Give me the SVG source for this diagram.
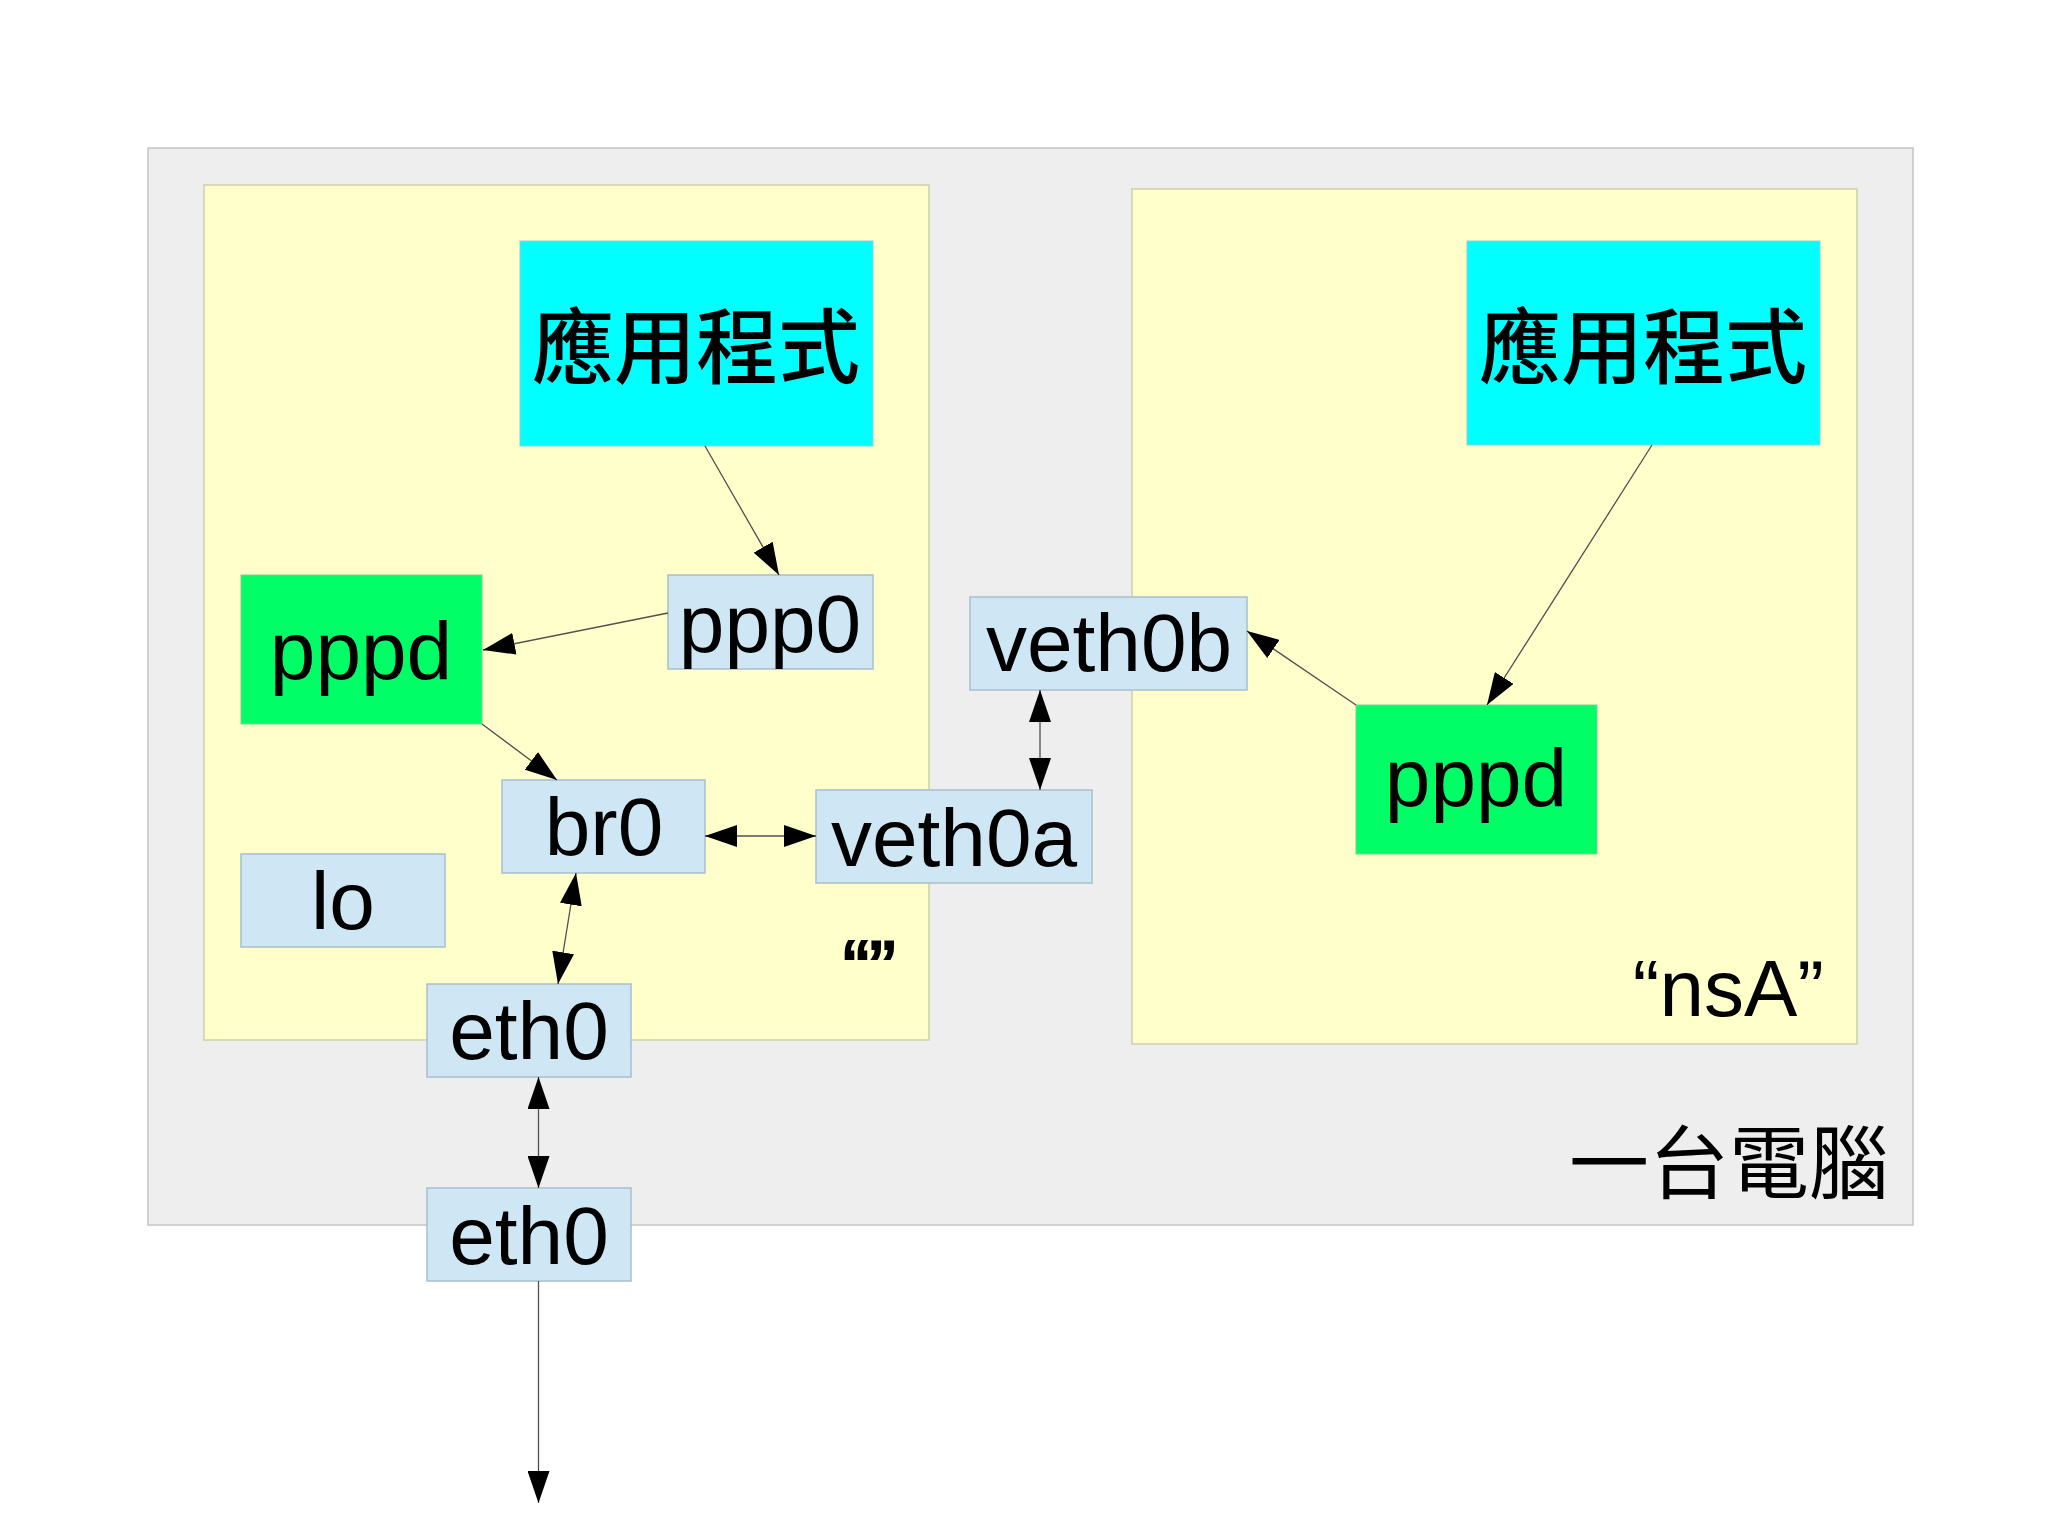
<svg xmlns="http://www.w3.org/2000/svg" width="2048" height="1535" viewBox="0 0 2048 1535">
<style>
.bg{fill:#ffffff}
.host{fill:#eeeeef;stroke:#c4c4c4;stroke-width:1.5}
.ns{fill:#ffffcc;stroke:#cfcfa8;stroke-width:1.5}
.app{fill:#00ffff;stroke:#8fd0d0;stroke-width:1}
.proc{fill:#00ff66;stroke:#7fcf90;stroke-width:1}
.dev{fill:#cfe7f5;stroke:#a9bfcc;stroke-width:1.5}
.lbl{font-family:"Liberation Sans",Arial,sans-serif;font-size:82px;fill:#000;text-anchor:middle}
.cjk{font-family:"Noto Sans CJK TC","Noto Sans CJK SC",sans-serif;font-size:82px;font-weight:500;fill:#000;text-anchor:middle}
.big{font-family:"Noto Sans CJK TC","Noto Sans CJK SC",sans-serif;font-size:80px;fill:#000;text-anchor:end}
.nsl{font-family:"Liberation Sans",Arial,sans-serif;font-size:80px;fill:#000;text-anchor:end}
.conn line{stroke:#505050;stroke-width:1.3;fill:none}
</style>
<defs>
<marker id="ah" viewBox="0 0 32 22" refX="32" refY="11" markerWidth="32" markerHeight="22" markerUnits="userSpaceOnUse" orient="auto-start-reverse">
<path d="M0,0 L32,11 L0,22 z" fill="#000"/>
</marker>
</defs>
<rect class="bg" x="0" y="0" width="2048" height="1535"/>
<g id="host">
<rect class="host" x="148" y="148" width="1765" height="1077"/>
<text class="big" x="1889" y="1192">一台電腦</text>
</g>
<g id="ns-default">
<rect class="ns" x="204" y="185" width="725" height="855"/>
<text class="nsl" x="896" y="996" style="stroke:#000;stroke-width:2">“”</text>
</g>
<g id="ns-nsA">
<rect class="ns" x="1132" y="189" width="725" height="855"/>
<text class="nsl" x="1824" y="1016">“nsA”</text>
</g>
<g id="app-left">
<rect class="app" x="520" y="241" width="353" height="205"/>
<text class="cjk" x="696" y="377">應用程式</text>
</g>
<g id="app-right">
<rect class="app" x="1467" y="241" width="353" height="204"/>
<text class="cjk" x="1643" y="377">應用程式</text>
</g>
<g id="pppd-left">
<rect class="proc" x="241" y="575" width="241" height="149"/>
<text class="lbl" x="361" y="679">pppd</text>
</g>
<g id="ppp0">
<rect class="dev" x="668" y="575" width="205" height="94"/>
<text class="lbl" x="770" y="652">ppp0</text>
</g>
<g id="br0">
<rect class="dev" x="502" y="780" width="203" height="93"/>
<text class="lbl" x="604" y="855">br0</text>
</g>
<g id="lo">
<rect class="dev" x="241" y="854" width="204" height="93"/>
<text class="lbl" x="343" y="929">lo</text>
</g>
<g id="veth0a">
<rect class="dev" x="816" y="790" width="276" height="93"/>
<text class="lbl" x="954" y="866">veth0a</text>
</g>
<g id="veth0b">
<rect class="dev" x="970" y="597" width="277" height="93"/>
<text class="lbl" x="1109" y="671">veth0b</text>
</g>
<g id="pppd-right">
<rect class="proc" x="1356" y="705" width="241" height="149"/>
<text class="lbl" x="1476" y="806">pppd</text>
</g>
<g id="eth0-ns">
<rect class="dev" x="427" y="984" width="204" height="93"/>
<text class="lbl" x="529" y="1059">eth0</text>
</g>
<g id="eth0-host">
<rect class="dev" x="427" y="1188" width="204" height="93"/>
<text class="lbl" x="529" y="1264">eth0</text>
</g>
<g id="connectors" class="conn">
<line x1="705" y1="446" x2="779" y2="575" marker-end="url(#ah)"/>
<line x1="668" y1="613" x2="483" y2="650" marker-end="url(#ah)"/>
<line x1="482" y1="724" x2="557" y2="780" marker-end="url(#ah)"/>
<line x1="705" y1="836" x2="816" y2="836" marker-start="url(#ah)" marker-end="url(#ah)"/>
<line x1="576" y1="873" x2="558" y2="984" marker-start="url(#ah)" marker-end="url(#ah)"/>
<line x1="538.5" y1="1077" x2="538.5" y2="1188" marker-start="url(#ah)" marker-end="url(#ah)"/>
<line x1="538.5" y1="1281" x2="538.5" y2="1503" marker-end="url(#ah)"/>
<line x1="1040" y1="690" x2="1040" y2="790" marker-start="url(#ah)" marker-end="url(#ah)"/>
<line x1="1652" y1="445" x2="1487" y2="705" marker-end="url(#ah)"/>
<line x1="1356" y1="705" x2="1247" y2="631" marker-end="url(#ah)"/>
</g>
</svg>
